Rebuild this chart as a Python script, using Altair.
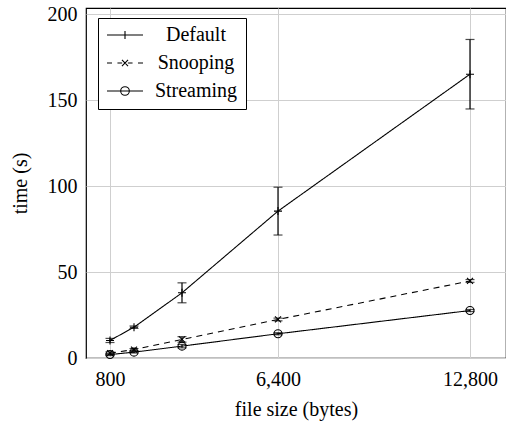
import altair as alt
import pandas as pd

# ---- data ----
sizes = [800, 1600, 3200, 6400, 12800]
series_names = ["Default", "Snooping", "Streaming"]
default_mean = [10.2, 17.9, 37.9, 85.4, 165.0]
default_err = [1.2, 0.7, 5.8, 13.9, 20.2]
snoop_mean = [2.8, 4.9, 10.8, 22.4, 44.8]
snoop_err = [0.8, 0.6, 1.6, 0.8, 0.8]
stream_mean = [2.0, 3.4, 6.9, 14.1, 27.6]
stream_err = [0.6, 0.5, 1.0, 0.6, 0.6]
x_ticks = [800, 6400, 12800]
y_ticks = [0, 50, 100, 150, 200]

rows = []
for name, means, errs in [("Default", default_mean, default_err),
                          ("Snooping", snoop_mean, snoop_err),
                          ("Streaming", stream_mean, stream_err)]:
    for s, m, e in zip(sizes, means, errs):
        rows.append({"size": s, "series": name, "mean": m, "lo": m - e, "hi": m + e})
df = pd.DataFrame(rows)

FONT = "Liberation Serif"
FS = 20

xs = alt.Scale(domain=[0, 14000], nice=False, zero=False)
ys = alt.Scale(domain=[0, 203.5], nice=False, zero=False)


def xenc():
    return alt.X("size:Q", scale=xs, title="file size (bytes)",
                 axis=alt.Axis(values=x_ticks, format=",d", labelPadding=11, titlePadding=10))


def yenc(field):
    return alt.Y(field, scale=ys, title="time (s)",
                 axis=alt.Axis(values=y_ticks, labelPadding=9, titlePadding=17))


# marker paths for data points (size 64 -> 4 px per unit)
plus_p = "M-1,0H1M0,-1V1"
x_p = "M-0.75,-0.75L0.75,0.75M-0.75,0.75L0.75,-0.75"
circ_p = "M-1,0A1,1 0 1,0 1,0A1,1 0 1,0 -1,0"

# legend symbol paths (line + marker), size 1296 -> 18 px per unit
leg_default = "M-1,0H1M0,-0.22V0.22"
leg_snoop = ("M-1,0H-0.72M-0.42,0H-0.16M0.16,0H0.42M0.72,0H1"
             "M-0.17,-0.17L0.17,0.17M-0.17,0.17L0.17,-0.17")
leg_stream = "M-1,0H1M-0.24,0A0.24,0.24 0 1,0 0.24,0A0.24,0.24 0 1,0 -0.24,0"

base = alt.Chart(df)

lines = base.mark_line(color="black", strokeWidth=1.1).encode(
    x=xenc(), y=yenc("mean:Q"),
    strokeDash=alt.StrokeDash("series:N",
                              scale=alt.Scale(domain=series_names, range=[[1, 0], [6, 5], [1, 0]]),
                              legend=None),
)

rules = base.mark_rule(color="black", strokeWidth=1.2).encode(
    x=xenc(), y=yenc("lo:Q"), y2="hi:Q")

cap_lo = base.mark_tick(orient="horizontal", size=9, thickness=1.2, color="black").encode(
    x=xenc(), y=yenc("lo:Q"))
cap_hi = base.mark_tick(orient="horizontal", size=9, thickness=1.2, color="black").encode(
    x=xenc(), y=yenc("hi:Q"))

markers = base.mark_point(filled=False, color="black", strokeWidth=1.1, size=64, opacity=1).encode(
    x=xenc(), y=yenc("mean:Q"),
    shape=alt.Shape("series:N",
                    scale=alt.Scale(domain=series_names, range=[plus_p, x_p, circ_p]),
                    legend=None),
)

legend_layer = base.mark_point(filled=False, color="black", strokeWidth=1, size=1296, opacity=0).encode(
    x=xenc(), y=yenc("mean:Q"),
    shape=alt.Shape("series:N",
                    scale=alt.Scale(domain=series_names, range=[leg_default, leg_snoop, leg_stream]),
                    legend=alt.Legend(
                        title=None, orient="none", legendX=12, legendY=10,
                        padding=8, strokeColor="black", fillColor="white", cornerRadius=0,
                        labelFont=FONT, labelFontSize=FS, labelColor="black",
                        labelAlign="center", labelOffset=52,
                        clipHeight=18, rowPadding=8,
                        symbolSize=1296, symbolStrokeWidth=1.1, symbolStrokeColor="black",
                        symbolOpacity=1,
                    )),
)

chart = alt.layer(lines, rules, cap_lo, cap_hi, markers, legend_layer).resolve_scale(
    shape="independent"
).properties(
    width=420, height=350,
    padding={"left": 86, "top": 8, "right": 0, "bottom": 66},
    autosize=alt.AutoSizeParams(type="none"),
).configure_view(
    stroke="black", strokeWidth=1.2
).configure_axis(
    labelFont=FONT, titleFont=FONT, labelFontSize=FS, titleFontSize=FS,
    labelColor="black", titleColor="black", titleFontWeight="normal",
    grid=True, gridColor="#cfcfcf", gridWidth=1, domain=False, ticks=False, tickSize=0,
)

chart.save("out.html", embed_options={"renderer": "svg", "actions": False})
